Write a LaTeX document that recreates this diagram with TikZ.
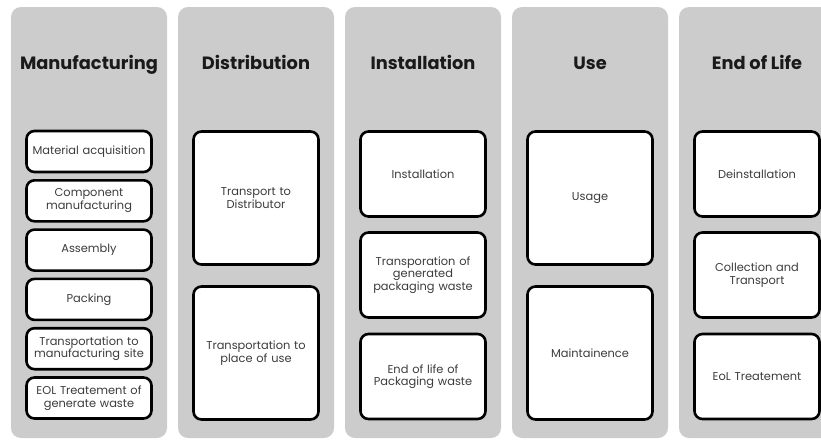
\documentclass[tikz,border=0pt]{standalone}
\usepackage{fontspec}
\setmainfont{Poppins}
\definecolor{panelgray}{HTML}{CCCCCC}
\definecolor{labelgray}{HTML}{3C3C3C}
\definecolor{titleink}{HTML}{1A1A1A}

\begin{document}
\begin{tikzpicture}[x=1pt,y=-1pt,
  panel/.style={fill=panelgray, rounded corners=10pt},
  phase/.style={font=\fontsize{17.8}{20}\selectfont\bfseries, text=titleink, anchor=base, inner sep=0pt},
  stepbox/.style={draw=black, line width=2.6pt, fill=white, rounded corners=8pt,
    minimum width=125pt, text width=122pt, inner sep=1pt, align=center,
    font=\fontsize{11.4}{12.6}\selectfont, text=labelgray, anchor=center},
  short/.style={stepbox, minimum height=41pt},
  mid/.style={stepbox, minimum height=85pt},
  tall/.style={stepbox, minimum height=133pt},
]
\useasboundingbox (0,0) rectangle (821,439);
\clip (0,0) rectangle (821,439);

% background panels, one per life-cycle phase
\foreach \cx/\nm in {89/pManu, 256/pDist, 423/pInst, 590/pUse, 757/pEol}
  \fill[panel] (\cx-78,7) rectangle (\cx+78,438);

% phase titles, all on one baseline
\node[phase] (tManu) at (89,69.5)  {Manufacturing};
\node[phase] (tDist) at (256,69.5) {Distribution};
\node[phase] (tInst) at (423,69.5) {Installation};
\node[phase] (tUse)  at (590,69.5) {Use};
\node[phase] (tEol)  at (757,69.5) {End of Life};

% Manufacturing steps
\node[short] (m1) at (89,151.5) {Material acquisition};
\node[short] (m2) at (89,200.8) {Component\\manufacturing};
\node[short] (m3) at (89,250.1) {Assembly};
\node[short] (m4) at (89,299.4) {Packing};
\node[short] (m5) at (89,348.7) {Transportation to\\manufacturing site};
\node[short] (m6) at (89,398.0) {EOL Treatement of\\generate waste};

% Distribution steps
\node[tall] (d1) at (256,198) {Transport to\\Distributor};
\node[tall] (d2) at (256,353) {Transportation to\\place of use};

% Installation steps
\node[mid] (i1) at (423,174)   {Installation};
\node[mid] (i2) at (423,275)   {Transporation of\\generated\\packaging waste};
\node[mid] (i3) at (423,376.5) {End of life of\\Packaging waste};

% Use steps
\node[tall] (u1) at (590,198) {Usage};
\node[tall] (u2) at (590,353) {Maintainence};

% End of Life steps
\node[mid] (e1) at (757,174)   {Deinstallation};
\node[mid] (e2) at (757,275)   {Collection and\\Transport};
\node[mid] (e3) at (757,376.5) {EoL Treatement};
\end{tikzpicture}
\end{document}
